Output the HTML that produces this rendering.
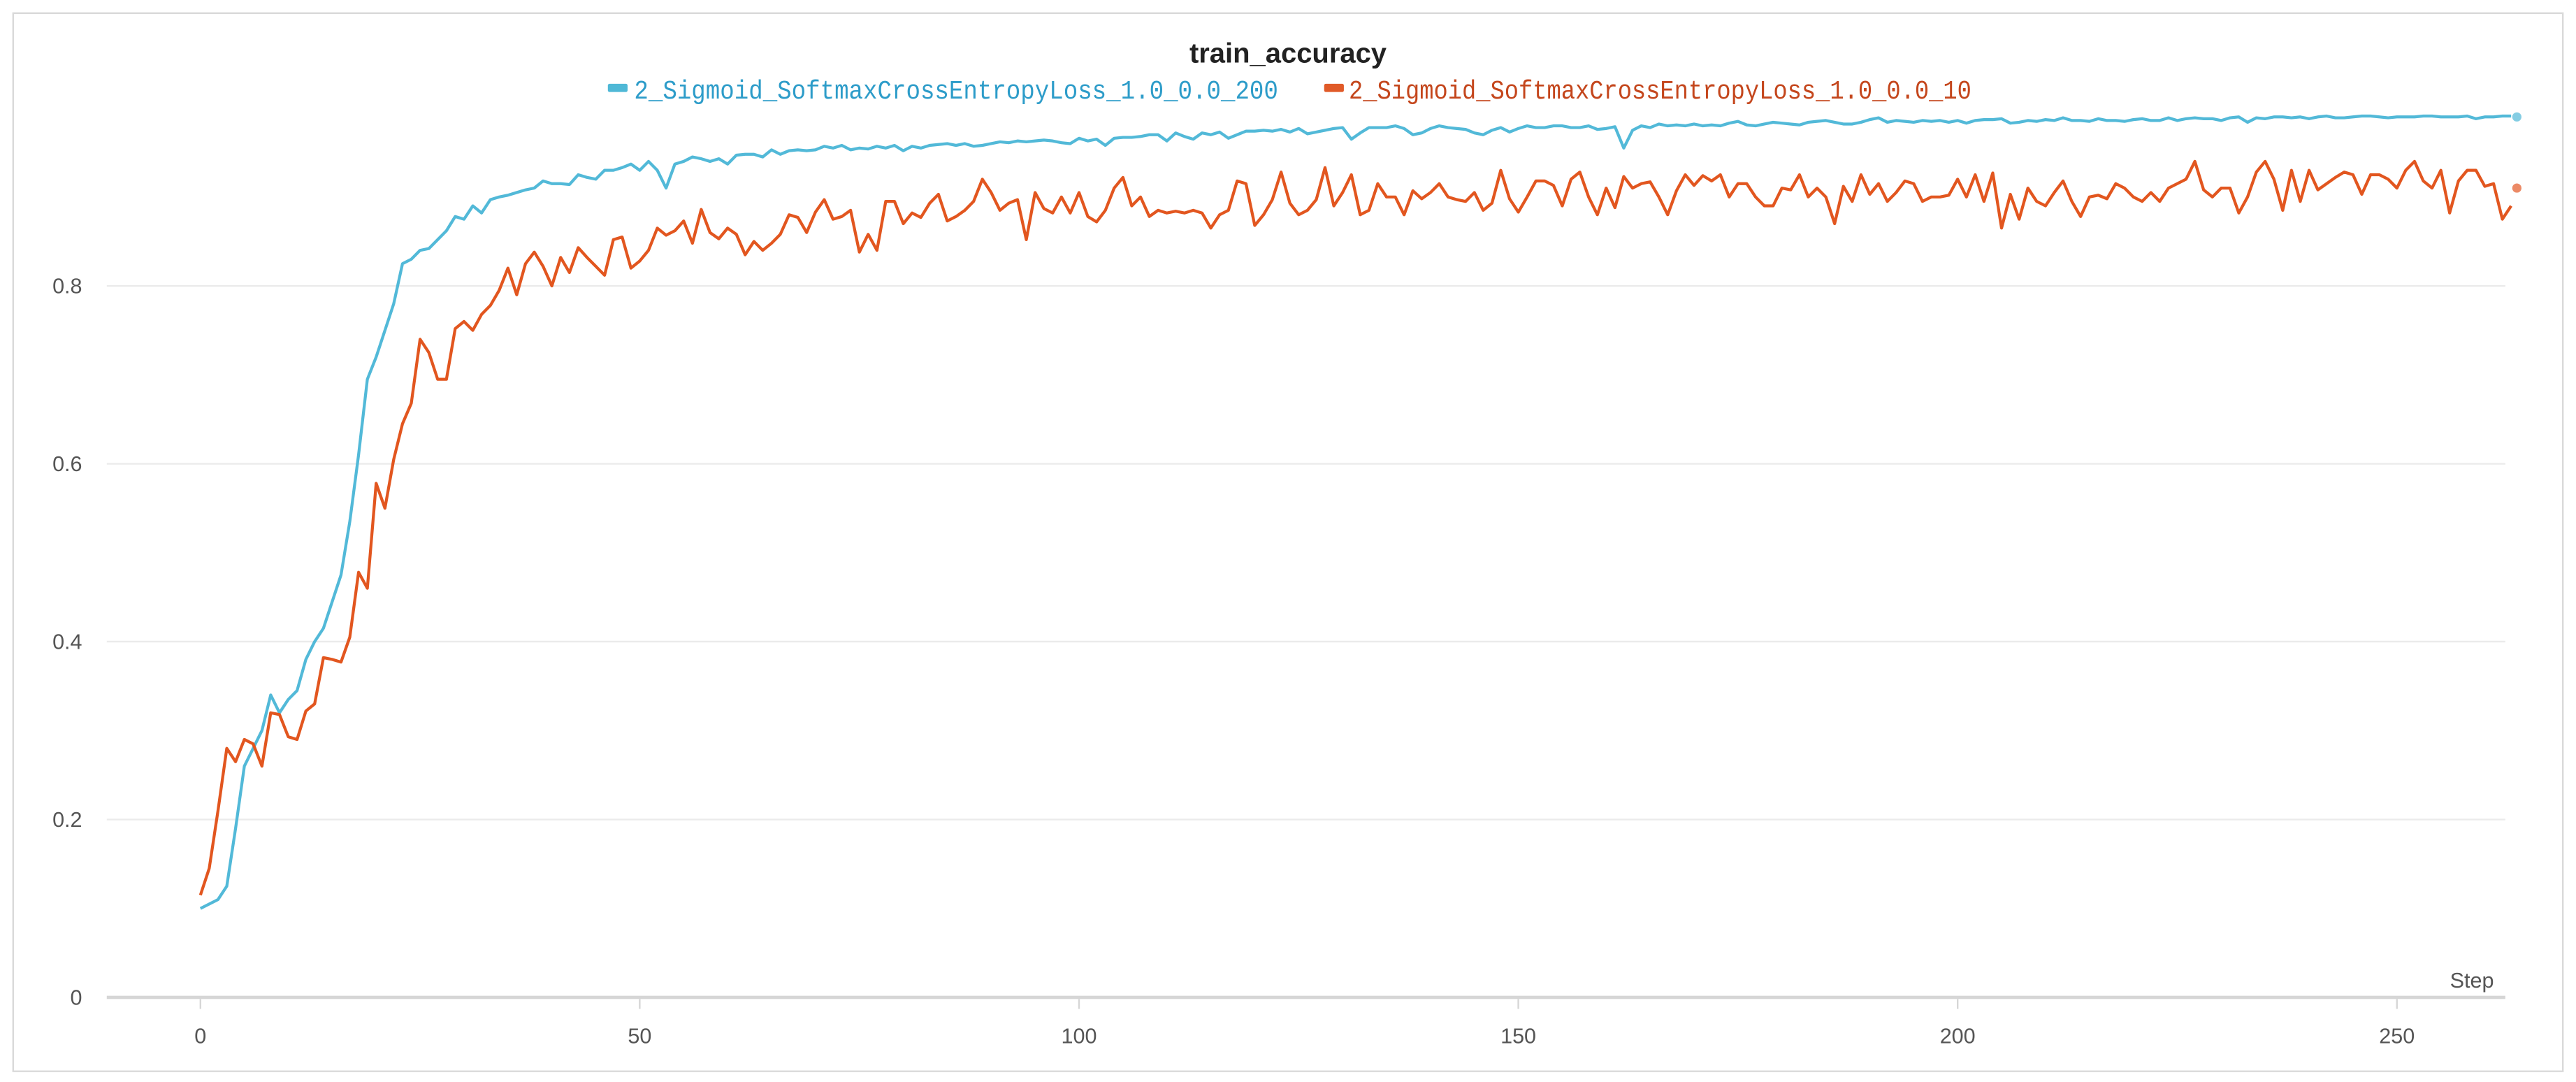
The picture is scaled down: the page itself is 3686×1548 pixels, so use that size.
<!DOCTYPE html>
<html><head><meta charset="utf-8"><style>
html,body{margin:0;padding:0;background:#fff;}
svg{display:block;}
</style></head><body>
<svg id="chart" width="3686" height="1548" viewBox="0 0 1568 658.5" xmlns="http://www.w3.org/2000/svg">
<rect x="8" y="8" width="1552" height="644" fill="#fff" stroke="#d9d9d9" stroke-width="1"/>
<text x="784" y="38" text-anchor="middle" font-family="Liberation Sans, sans-serif" font-weight="bold" font-size="17" fill="#222">train_accuracy</text>
<g>
<g><rect x="370" y="51" width="12" height="5" rx="1" fill="#4fb8d6"/><text x="386" y="60" textLength="392" lengthAdjust="spacingAndGlyphs" font-family="Liberation Mono, monospace" font-size="16" fill="#2d9cc9">2_Sigmoid_SoftmaxCrossEntropyLoss_1.0_0.0_200</text></g>
<g><rect x="806" y="51" width="12" height="5" rx="1" fill="#e05a28"/><text x="821" y="60" textLength="379" lengthAdjust="spacingAndGlyphs" font-family="Liberation Mono, monospace" font-size="16" fill="#c4461c">2_Sigmoid_SoftmaxCrossEntropyLoss_1.0_0.0_10</text></g>
</g>
<g id="grid"></g><g id="axes"></g><g id="series"></g>
</svg>
<script>
const yTicks=[0,0.2,0.4,0.6,0.8];
const yTickLabels=["0","0.2","0.4","0.6","0.8"];
const xTicks=[0,50,100,150,200,250];
const xTickLabels=["0","50","100","150","200","250"];
const blue=[0.10,0.105,0.11,0.125,0.19,0.26,0.28,0.30,0.34,0.32,0.335,0.345,0.38,0.40,0.415,0.445,0.475,0.535,0.61,0.695,0.72,0.75,0.78,0.825,0.83,0.84,0.842,0.852,0.862,0.878,0.875,0.89,0.882,0.897,0.9,0.902,0.905,0.908,0.91,0.918,0.915,0.915,0.914,0.925,0.922,0.92,0.93,0.93,0.933,0.937,0.93,0.94,0.93,0.91,0.937,0.94,0.945,0.943,0.94,0.943,0.937,0.947,0.948,0.948,0.945,0.953,0.948,0.952,0.953,
.952,.953,.957,.955,.958,.953,.955,.954,.957,.955,
.958,.952,.957,.955,.958,.959,.96,.958,.96,.957,
.958,.96,.962,.961,.963,.962,.963,.964,.963,.961,
.96,.966,.963,.965,.958,.966,.967,.967,.968,.97,
.97,.963,.972,.968,.965,.972,.97,.973,.966,.97,
.974,.974,.975,.974,.976,.973,.977,.971,.973,.975,
.977,.978,.965,.972,.978,.978,.978,.98,.977,.97,
.972,.977,.98,.978,.977,.976,.972,.97,.975,.978,
.973,.977,.98,.978,.978,.98,.98,.978,.978,.98,
.976,.977,.979,.955,.975,.98,.978,.982,.98,.981,
.98,.982,.98,.981,.98,.983,.985,.981,.98,.982,
.984,.983,.982,.981,.984,.985,.986,.984,.982,.982,
.984,.987,.989,.984,.986,.985,.984,.986,.985,.986,
.984,.986,.983,.986,.987,.987,.988,.983,.984,.986,
.985,.987,.986,.989,.986,.986,.985,.988,.986,.986,
.985,.987,.988,.986,.986,.989,.986,.988,.989,.988,
.988,.986,.989,.99,.984,.989,.988,.99,.99,.989,
.99,.988,.99,.991,.989,.989,.99,.991,.991,.99,
.989,.99,.99,.99,.991,.991,.99,.99,.99,.991,
.988,.99,.99,.991,.991];
const orange=[0.115,0.145,0.21,0.28,0.265,0.29,0.285,0.26,0.32,0.318,0.293,0.29,0.322,0.33,0.382,0.38,0.377,0.405,0.478,0.46,0.578,0.55,0.605,0.645,0.668,0.74,0.725,0.695,0.695,0.752,0.76,0.75,0.768,0.778,0.795,0.82,0.79,0.825,0.838,0.822,0.8,0.832,0.815,0.843,0.832,0.822,0.812,0.852,0.855,0.82,0.828,0.84,0.865,0.857,0.862,0.873,0.848,0.886,0.86,0.853,0.865,0.858,0.835,0.85,0.84,0.848,0.858,0.88,0.877,0.86,0.883,0.897,0.875,0.878,0.885,0.838,0.858,0.84,0.895,0.895,0.87,0.882,0.877,0.893,0.903,0.873,0.878,0.885,0.895,0.92,0.905,0.885,0.893,0.897,0.852,0.905,0.887,0.882,0.9,0.882,0.905,
.878,.872,.885,.91,.922,.89,.9,.878,.885,.882,
.884,.882,.885,.882,.865,.88,.885,.918,.915,.868,
.88,.897,.928,.893,.88,.885,.897,.933,.89,.905,
.925,.88,.885,.915,.9,.9,.88,.907,.898,.905,
.915,.9,.897,.895,.905,.885,.893,.93,.898,.883,
.9,.918,.918,.913,.89,.92,.928,.9,.88,.91,
.888,.923,.91,.915,.917,.9,.88,.907,.925,.913,
.924,.918,.925,.9,.915,.915,.9,.89,.89,.91,
.908,.925,.9,.91,.9,.87,.912,.895,.925,.903,
.915,.895,.905,.918,.915,.895,.9,.9,.902,.92,
.9,.925,.895,.927,.865,.903,.875,.91,.895,.89,
.905,.918,.895,.878,.9,.902,.898,.915,.91,.9,
.895,.905,.895,.91,.915,.92,.94,.908,.9,.91,
.91,.882,.9,.928,.94,.92,.885,.93,.895,.93,
.908,.915,.922,.928,.925,.903,.925,.925,.92,.91,
.93,.94,.918,.91,.93,.882,.918,.93,.93,.912,
.915,.875,.89];
const endValues=[0.99,0.91];
const NS="http://www.w3.org/2000/svg";
const xs=s=>122+s*(1459-122)/250;
const ys=v=>607-v*(607-174)/0.8;
function mk(tag,attrs,parent){const e=document.createElementNS(NS,tag);for(const k in attrs)e.setAttribute(k,attrs[k]);parent.appendChild(e);return e;}
const grid=document.getElementById('grid'),axes=document.getElementById('axes'),series=document.getElementById('series');
yTicks.forEach((t,i)=>{
  if(t>0){const l=mk('line',{x1:65,x2:1525,y1:ys(t),y2:ys(t),stroke:'#ebebeb','stroke-width':1},grid);
  
  }
  const tx=mk('text',{x:50,y:ys(t)+4.5,'text-anchor':'end','font-family':'Liberation Sans, sans-serif','font-size':13,fill:'#555'},axes);
  tx.textContent=yTickLabels[i];
  
  
});
const ax=mk('line',{x1:65,x2:1525,y1:607,y2:607,stroke:'#d6d6d6','stroke-width':2},axes);


xTicks.forEach((t,i)=>{
  const tk=mk('line',{x1:xs(t),x2:xs(t),y1:608,y2:614,stroke:'#d6d6d6','stroke-width':1},axes);
  
  
  const tx=mk('text',{x:xs(t),y:635,'text-anchor':'middle','font-family':'Liberation Sans, sans-serif','font-size':13,fill:'#555'},axes);
  tx.textContent=xTickLabels[i];
  
  
});
const st=mk('text',{x:1518,y:601,'text-anchor':'end','font-family':'Liberation Sans, sans-serif','font-size':13,fill:'#555'},axes);
st.textContent='Step';


function line(data,color,name){
  const d=data.map((v,i)=>(i?'L':'M')+xs(i).toFixed(2)+' '+ys(v).toFixed(2)).join(' ');
  const p=mk('path',{d:d,fill:'none',stroke:color,'stroke-width':1.8,'stroke-linejoin':'round'},series);
  
  
}
line(blue,'#52b9d8','series-200-line');
line(orange,'#e2561f','series-10-line');
const d1=mk('circle',{cx:1532,cy:ys(endValues[0]),r:2.8,fill:'#84cde3'},series);


const d2=mk('circle',{cx:1532,cy:ys(endValues[1]),r:2.8,fill:'#ec8a66'},series);


</script>
</body></html>
